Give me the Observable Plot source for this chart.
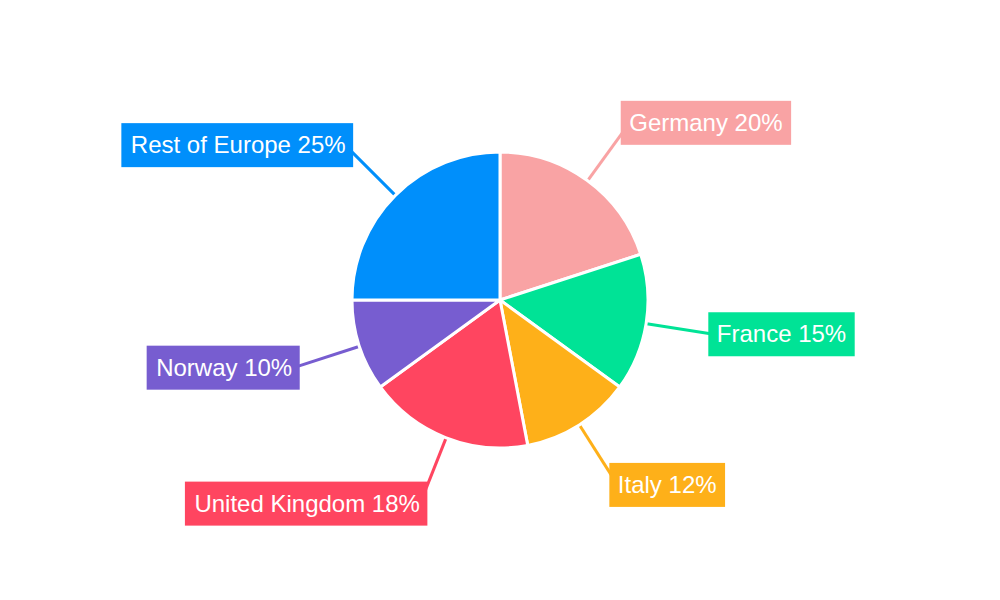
<!DOCTYPE html>
<html>
<head>
<meta charset="utf-8">
<script src="https://cdn.jsdelivr.net/npm/d3@7"></script>
<script src="https://cdn.jsdelivr.net/npm/@observablehq/plot@0.6"></script>
<style>
  html, body { margin: 0; padding: 0; background: #fff; }
  #chart { width: 1000px; height: 600px; }
</style>
</head>
<body>
<div id="chart"></div>
<script>
const names = ["Germany", "France", "Italy", "United Kingdom", "Norway", "Rest of Europe"];
const shares = [20, 15, 12, 18, 10, 25];
const colors = ["#F9A3A4", "#00E396", "#FEB019", "#FF4560", "#775DD0", "#008FFB"];

const FONT = "'Liberation Sans', Arial, sans-serif";
const FS = 24;
const R = 148, R_LINE = 219, R_LABEL = 219;

const ctx = document.createElement("canvas").getContext("2d");
ctx.font = `${FS}px ${FONT}`;

const total = d3.sum(shares);
let acc = 0;
const rows = names.map((name, i) => {
  const a0 = acc / total * 2 * Math.PI;
  acc += shares[i];
  const a1 = acc / total * 2 * Math.PI;
  const mid = (a0 + a1) / 2;
  const label = `${name} ${shares[i]}%`;
  const w = ctx.measureText(label).width;
  const s = Math.sin(mid), c = Math.cos(mid);
  const right = s >= 0;
  const lx = R_LABEL * s, ly = R_LABEL * c;
  return {
    name, share: shares[i], color: colors[i], a0, a1, label, right,
    ex: R * s, ey: R * c,
    tx: R_LINE * s, ty: R_LINE * c,
    lx, ly,
    bx1: right ? lx - 8 : lx - w - 9,
    bx2: right ? lx + w + 9 : lx + 8,
    by1: ly - 22, by2: ly + 22
  };
});

// custom slice mark drawn through Plot's x/y scales
function slices(index, scales) {
  const cx = scales.x(0), cy = scales.y(0);
  const r = Math.abs(scales.x(R) - scales.x(0));
  const arc = d3.arc().innerRadius(0).outerRadius(r);
  const g = d3.create("svg:g").attr("transform", `translate(${cx},${cy})`);
  g.selectAll("path").data(rows).join("path")
    .attr("d", d => arc({startAngle: d.a0, endAngle: d.a1}))
    .attr("fill", d => d.color)
    .attr("stroke", "#fff")
    .attr("stroke-width", 3)
    .attr("stroke-linejoin", "round");
  return g.node();
}

const plot = Plot.plot({
  width: 1000,
  height: 600,
  margin: 0,
  style: {fontFamily: FONT, background: "#fff"},
  x: {domain: [-500, 500], range: [0, 1000], axis: null},
  y: {domain: [300, -300], range: [0, 600], axis: null},
  color: {domain: names, range: colors},
  marks: [
    Plot.link(rows, {x1: "ex", y1: "ey", x2: "tx", y2: "ty", stroke: "name", strokeWidth: 3}),
    slices,
    Plot.rect(rows, {x1: "bx1", x2: "bx2", y1: "by1", y2: "by2", fill: "name"}),
    Plot.text(rows.filter(d => d.right), {x: "lx", y: "ly", text: "label", textAnchor: "start", fill: "#fff", fontSize: FS}),
    Plot.text(rows.filter(d => !d.right), {x: "lx", y: "ly", text: "label", textAnchor: "end", fill: "#fff", fontSize: FS})
  ]
});
document.getElementById("chart").appendChild(plot);
</script>
</body>
</html>
